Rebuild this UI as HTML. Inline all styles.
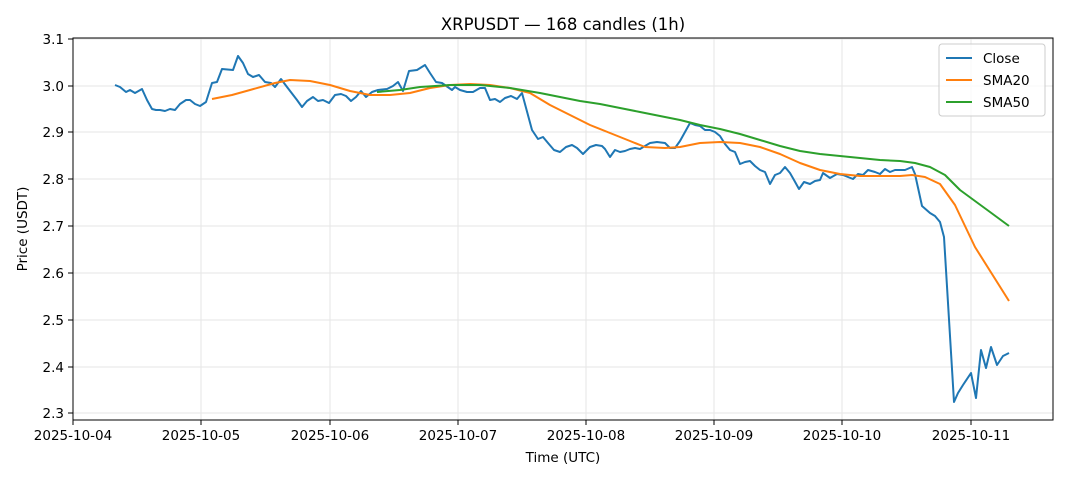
<!DOCTYPE html>
<html><head><meta charset="utf-8"><style>body{margin:0;background:#fff}svg{display:block;font-family:"DejaVu Sans","Liberation Sans",sans-serif}</style></head><body>
<svg width="1068" height="481" viewBox="0 0 1068 481">
<rect width="1068" height="481" fill="#fff"/>
<g stroke="#e6e6e6" stroke-width="1">
<line x1="73" y1="39" x2="1053" y2="39"/><line x1="73" y1="86" x2="1053" y2="86"/><line x1="73" y1="132" x2="1053" y2="132"/><line x1="73" y1="179" x2="1053" y2="179"/><line x1="73" y1="226" x2="1053" y2="226"/><line x1="73" y1="273" x2="1053" y2="273"/><line x1="73" y1="320" x2="1053" y2="320"/><line x1="73" y1="367" x2="1053" y2="367"/><line x1="73" y1="413" x2="1053" y2="413"/>
<line x1="73" y1="38" x2="73" y2="420"/><line x1="201" y1="38" x2="201" y2="420"/><line x1="330" y1="38" x2="330" y2="420"/><line x1="458" y1="38" x2="458" y2="420"/><line x1="586" y1="38" x2="586" y2="420"/><line x1="714" y1="38" x2="714" y2="420"/><line x1="842" y1="38" x2="842" y2="420"/><line x1="971" y1="38" x2="971" y2="420"/>
</g>
<g fill="none" stroke-width="2" stroke-linejoin="round">
<polyline stroke="#1f77b4" points="115,85 120,87 126,92 130,90 135,93 142,89 147,100 152,109 156,110 160,110 165,111 170,109 175,110 180,104 186,100 190,100 195,104 200,106 206,102 212,83 217,82 222,69 233,70 238,56 243,63 248,74 253,77 259,75 265,82 271,83 275,87 281,79 287,87 297,100 302,107 307,101 313,97 318,101 323,100 329,103 335,95 341,94 346,96 351,101 356,97 361,91 366,97 372,92 378,90 387,89 393,86 398,82 403,91 409,71 417,70 425,65 430,73 436,82 442,83 452,90 455,87 460,90 467,92 473,92 480,88 485,88 490,100 495,99 500,102 505,98 511,96 517,99 522,93 532,130 538,139 543,137 548,143 554,150 560,152 566,147 572,145 577,148 583,154 590,147 596,145 602,146 605,149 610,157 615,150 620,152 625,151 630,149 635,148 640,149 645,146 650,143 657,142 665,143 670,148 675,148 680,141 685,132 690,123 695,125 700,126 705,130 710,130 715,132 720,136 725,144 730,150 735,152 740,164 745,162 750,161 755,166 760,170 765,172 770,184 775,175 780,173 785,167 790,173 794,180 799,189 804,182 810,184 815,181 820,180 823,173 830,178 837,174 843,175 853,179 858,174 863,175 868,170 875,172 880,174 885,169 890,172 895,170 900,170 905,170 912,167 915,174 922,206 930,213 935,216 940,222 944,237 954,402 958,393 963,385 971,373 976,398 981,350 986,368 991,347 997,365 1003,356 1009,353"/>
<polyline stroke="#ff7f0e" points="212,99 232,95 250,90 275,83 290,80 310,81 330,85 350,91 370,95 390,95 410,93 430,88 450,85 470,84 490,85 510,88 530,93 550,105 570,115 590,125 610,133 630,141 645,147 665,148 680,147 700,143 720,142 740,143 760,147 780,154 800,163 820,170 840,174 860,176 880,176 900,176 912,175 925,177 940,184 955,205 975,247 1009,301"/>
<polyline stroke="#2ca02c" points="377,92 400,90 420,87 450,85 480,85 510,88 540,93 560,97 580,101 600,104 620,108 640,112 660,116 680,120 700,125 720,129 740,134 760,140 780,146 800,151 820,154 840,156 860,158 880,160 900,161 915,163 930,167 945,175 960,190 975,201 990,212 1009,226"/>
</g>
<rect x="73" y="38" width="980" height="382" fill="none" stroke="#000" stroke-width="1"/>
<g stroke="#000"><line x1="68" y1="39" x2="73" y2="39"/><line x1="68" y1="86" x2="73" y2="86"/><line x1="68" y1="132" x2="73" y2="132"/><line x1="68" y1="179" x2="73" y2="179"/><line x1="68" y1="226" x2="73" y2="226"/><line x1="68" y1="273" x2="73" y2="273"/><line x1="68" y1="320" x2="73" y2="320"/><line x1="68" y1="367" x2="73" y2="367"/><line x1="68" y1="413" x2="73" y2="413"/>
<line x1="73" y1="420" x2="73" y2="425"/><line x1="201" y1="420" x2="201" y2="425"/><line x1="330" y1="420" x2="330" y2="425"/><line x1="458" y1="420" x2="458" y2="425"/><line x1="586" y1="420" x2="586" y2="425"/><line x1="714" y1="420" x2="714" y2="425"/><line x1="842" y1="420" x2="842" y2="425"/><line x1="971" y1="420" x2="971" y2="425"/></g>
<g font-size="13.5" fill="#000" text-anchor="end"><text x="64" y="44">3.1</text><text x="64" y="91">3.0</text><text x="64" y="137">2.9</text><text x="64" y="184">2.8</text><text x="64" y="231">2.7</text><text x="64" y="278">2.6</text><text x="64" y="325">2.5</text><text x="64" y="372">2.4</text><text x="64" y="418">2.3</text></g>
<g font-size="13.5" fill="#000" text-anchor="middle"><text x="73" y="440">2025-10-04</text><text x="201" y="440">2025-10-05</text><text x="330" y="440">2025-10-06</text><text x="458" y="440">2025-10-07</text><text x="586" y="440">2025-10-08</text><text x="714" y="440">2025-10-09</text><text x="842" y="440">2025-10-10</text><text x="971" y="440">2025-10-11</text>
<text x="563" y="462">Time (UTC)</text><text x="563" y="30" font-size="16.5">XRPUSDT — 168 candles (1h)</text>
<text transform="translate(27,229) rotate(-90)">Price (USDT)</text></g>
<rect x="939" y="44" width="106" height="72" rx="3" fill="#fff" fill-opacity="0.8" stroke="#ccc"/>
<g stroke-width="2"><line x1="946" y1="58" x2="972" y2="58" stroke="#1f77b4"/><line x1="946" y1="80" x2="972" y2="80" stroke="#ff7f0e"/><line x1="946" y1="102" x2="972" y2="102" stroke="#2ca02c"/></g>
<g font-size="13.5" fill="#000"><text x="983" y="63">Close</text><text x="983" y="85">SMA20</text><text x="983" y="107">SMA50</text></g>
</svg>
</body></html>
